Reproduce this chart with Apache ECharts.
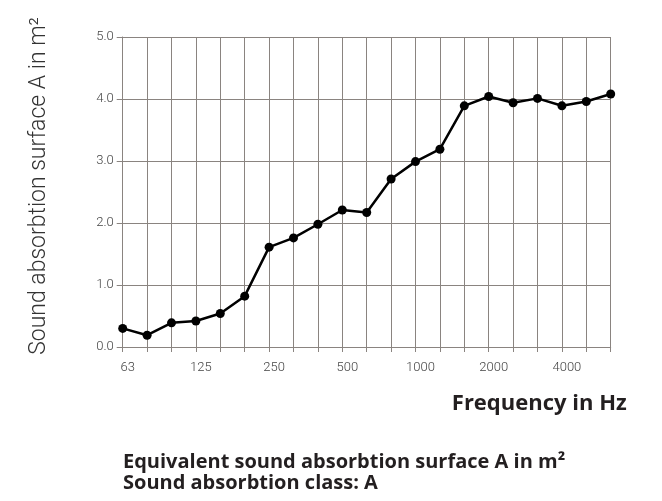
<!DOCTYPE html>
<html>
<head>
<meta charset="utf-8">
<script src="https://cdn.jsdelivr.net/npm/echarts@6/dist/echarts.min.js"></script>
<style>html,body{margin:0;padding:0;background:#fff}#c{width:662px;height:501px}</style>
</head>
<body>
<div id="c"></div>
<script>
var frequencies = ['63','80','100','125','160','200','250','315','400','500','630','800','1000','1250','1600','2000','2500','3150','4000','5000','6300'];
var tickLabels = ['63','125','250','500','1000','2000','4000'];
var absorption = [0.30,0.19,0.39,0.42,0.54,0.82,1.61,1.76,1.98,2.21,2.17,2.71,2.99,3.19,3.89,4.04,3.94,4.01,3.89,3.96,4.08];
var yTicks = [0,1,2,3,4,5];

var chart = echarts.init(document.getElementById('c'));
var gridColor = '#8a8480';
chart.setOption({
  animation: false,
  backgroundColor: '#fff',
  title: {
    text: 'Equivalent sound absorbtion surface A in m²\nSound absorbtion class: A',
    left: 118, top: 447,
    textStyle: {fontFamily: 'Open Sans', fontWeight: 'bold', fontSize: 20, color: '#231f20', lineHeight: 21}
  },
  grid: {left: 122.7, right: 51.3, top: 37, bottom: 154},
  xAxis: {
    type: 'category',
    data: frequencies,
    boundaryGap: false,
    name: 'Frequency in Hz',
    nameLocation: 'end',
    nameGap: 16,
    nameTextStyle: {fontFamily: 'Open Sans', fontWeight: 'bold', fontSize: 22, color: '#231f20',
      align: 'right', verticalAlign: 'top', padding: [46, 0, 0, 0]},
    axisLine: {show: true, lineStyle: {color: gridColor, width: 1}},
    axisTick: {show: true, length: 5, interval: 0, lineStyle: {color: gridColor}},
    splitLine: {show: true, interval: 0, lineStyle: {color: gridColor, width: 1}},
    axisLabel: {
      interval: function (i, v) { return tickLabels.indexOf(v) >= 0; },
      margin: 14,
      padding: [0, 0, 0, 10],
      fontFamily: 'Roboto', fontWeight: 300, fontSize: 13, color: '#444'
    }
  },
  yAxis: {
    type: 'value',
    min: yTicks[0], max: yTicks[yTicks.length - 1], interval: 1,
    name: 'Sound absorbtion surface A in m²',
    nameLocation: 'middle',
    nameGap: 72,
    nameRotate: 90,
    nameTextStyle: {fontFamily: 'Roboto', fontWeight: 300, fontSize: 23, color: '#333', padding: [0, 0, 0, 12]},
    axisLine: {show: true, lineStyle: {color: gridColor, width: 1}},
    axisTick: {show: true, length: 6, lineStyle: {color: gridColor}},
    splitLine: {show: true, lineStyle: {color: gridColor, width: 1}},
    axisLabel: {
      margin: 9,
      formatter: function (v) { return v.toFixed(1); },
      fontFamily: 'Roboto', fontWeight: 300, fontSize: 13, color: '#444'
    }
  },
  series: [{
    type: 'line',
    data: absorption,
    symbol: 'circle',
    symbolSize: 9,
    lineStyle: {color: '#000', width: 2.5},
    itemStyle: {color: '#000'}
  }]
});
</script>
</body>
</html>
